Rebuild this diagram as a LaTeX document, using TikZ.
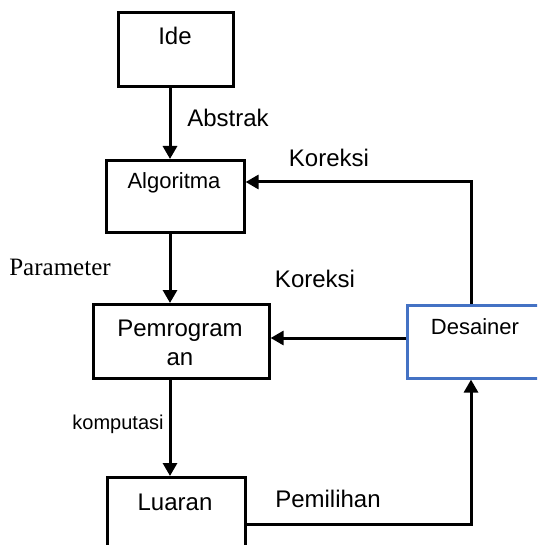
\documentclass[tikz,border=0pt]{standalone}
\usepackage{fontspec}
\setmainfont{Liberation Sans}
\newfontfamily\timesf{Liberation Serif}
\usetikzlibrary{arrows.meta}
\definecolor{desblue}{RGB}{68,114,196}
\begin{document}
\begin{tikzpicture}[x=1pt,y=-1pt,
 box/.style={draw, line width=2.6pt, inner sep=0pt, anchor=north west},
 lbl/.style={inner sep=0pt, font=\fontsize{24}{29}\selectfont},
 conn/.style={line width=3pt, -{Triangle[width=14pt,length=13pt]}}]
\useasboundingbox (0,0) rectangle (537,545);
\clip (0,0) rectangle (537,545);
% boxes
\node[box, minimum width=115pt, minimum height=74pt] (ide) at (117,11) {};
\node[box, minimum width=138pt, minimum height=72pt] (alg) at (105,159) {};
\node[box, minimum width=176pt, minimum height=74pt] (pem) at (92,303) {};
\node[box, draw=desblue, minimum width=145pt, minimum height=73pt] (des) at (406,304) {};
\node[box, minimum width=138pt, minimum height=100pt] (lua) at (106,476) {};
% box texts
\node[lbl] (tide) at (175,36) {Ide};
\node[lbl, font=\fontsize{22}{26}\selectfont] (talg) at (174,183) {Algoritma};
\node[lbl, align=center] (tpem) at (180,343) {Pemrogram\\an};
\node[lbl, font=\fontsize{22}{26}\selectfont] (tdes) at (475,327) {Desainer};
\node[lbl] (tlua) at (175,502) {Luaran};
% edge labels
\node[lbl] (labs) at (228,118) {Abstrak};
\node[lbl] (lkor1) at (329,158) {Koreksi};
\node[lbl, font=\timesf\fontsize{25}{29}\selectfont] (lpar) at (60,267) {Parameter};
\node[lbl] (lkor2) at (315,279) {Koreksi};
\node[lbl, font=\fontsize{20}{24}\selectfont] (lkom) at (118,424) {komputasi};
\node[lbl] (lpil) at (328,499) {Pemilihan};
% helper coordinates
\coordinate (xa) at (170,0);
\coordinate (xd) at (471,0);
\coordinate (ya) at (0,182);
\coordinate (yd) at (0,338);
\coordinate (yl) at (0,524);
% connectors
\draw[conn] (ide.south -| xa) -- (alg.north -| xa);
\draw[conn] (alg.south -| xa) -- (pem.north -| xa);
\draw[conn] (pem.south -| xa) -- (lua.north -| xa);
\draw[conn] (des.north -| xd) |- (ya -| alg.east);
\draw[conn] (yd -| des.west) -- (yd -| pem.east);
\draw[conn] (yl -| lua.east) -| (des.south -| xd);
\end{tikzpicture}
\end{document}
